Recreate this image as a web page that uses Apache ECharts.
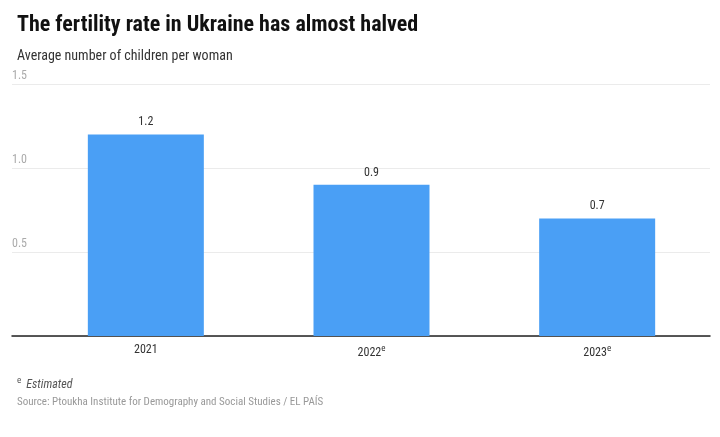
<!DOCTYPE html>
<html><head><meta charset="utf-8">
<script src="https://cdn.jsdelivr.net/npm/echarts@6/dist/echarts.min.js"></script>
<style>html,body{margin:0;padding:0;background:#fff}#c{width:720px;height:437px}</style>
</head><body><div id="c"></div>
<script>
const categories = ['2021', '2022', '2023'];
const estimated = [false, true, true];
const values = [1.2, 0.9, 0.7];
const yTicks = [0, 0.5, 1.0, 1.5];

const FONT = "'Liberation Sans Narrow', 'Roboto Condensed', 'DejaVu Sans Condensed', Roboto, sans-serif";
const chart = echarts.init(document.getElementById('c'));
chart.setOption({
  backgroundColor: '#fff',
  animation: false,
  title: [
    {text: 'The fertility rate in Ukraine has almost halved', left: 12, top: 9,
     textStyle: {fontFamily: FONT, fontWeight: 'bold', fontSize: 22, color: '#111'}},
    {text: 'Average number of children per woman', left: 12, top: 44,
     textStyle: {fontFamily: FONT, fontWeight: 'normal', fontSize: 14, color: '#333'}},
    {text: '{s|e} {i|Estimated}', left: 12, top: 371,
     textStyle: {fontWeight: 'normal', rich: {s: {fontFamily: FONT, fontWeight: 'normal', fontSize: 9, color: '#555', verticalAlign: 'top', padding: [0,0,6,0]},
                        i: {fontFamily: FONT, fontWeight: 'normal', fontSize: 12, fontStyle: 'italic', color: '#555'}}}},
    {text: 'Source: Ptoukha Institute for Demography and Social Studies / EL PAÍS', left: 12, top: 392,
     textStyle: {fontFamily: FONT, fontWeight: 'normal', fontSize: 11, color: '#999'}}
  ],
  grid: [
    {left: 33, right: 10, top: 84, height: 252},
    {left: 12, right: 10, top: 84, height: 252}
  ],
  xAxis: [
    {type: 'category', gridIndex: 0, data: categories,
     axisLine: {show: false}, axisTick: {show: false},
     axisLabel: {margin: 8, fontFamily: FONT, fontSize: 12, color: '#333',
       formatter: (v, i) => estimated[i] ? v + '{s|e}' : v,
       rich: {s: {fontFamily: FONT, fontSize: 9, color: '#333', verticalAlign: 'top', padding: [0,0,8,0]}}}},
    {type: 'value', gridIndex: 1, min: 0, max: 1, show: true,
     axisLine: {show: true, onZero: false, lineStyle: {color: '#222', width: 1.5}},
     axisTick: {show: false}, axisLabel: {show: false}, splitLine: {show: false}}
  ],
  yAxis: [
    {type: 'value', gridIndex: 0, min: 0, max: 1.5, interval: 0.5, show: false},
    {type: 'value', gridIndex: 1, min: 0, max: 1.5, interval: 0.5,
     axisLine: {show: false}, axisTick: {show: false},
     splitLine: {lineStyle: {color: '#ebebeb'}},
     axisLabel: {inside: true, margin: 0, verticalAlign: 'bottom', padding: [0,0,2,0],
       fontFamily: FONT, fontSize: 12, color: '#aaa',
       formatter: v => v === 0 ? '' : v.toFixed(1)}}
  ],
  series: [
    {type: 'bar', xAxisIndex: 0, yAxisIndex: 0, data: values, barWidth: 116,
     itemStyle: {color: '#4a9ff5'},
     label: {show: true, position: 'top', distance: 6, fontFamily: FONT, fontSize: 12, color: '#333',
       formatter: p => p.value.toFixed(1)}}
  ]
});
</script></body></html>
